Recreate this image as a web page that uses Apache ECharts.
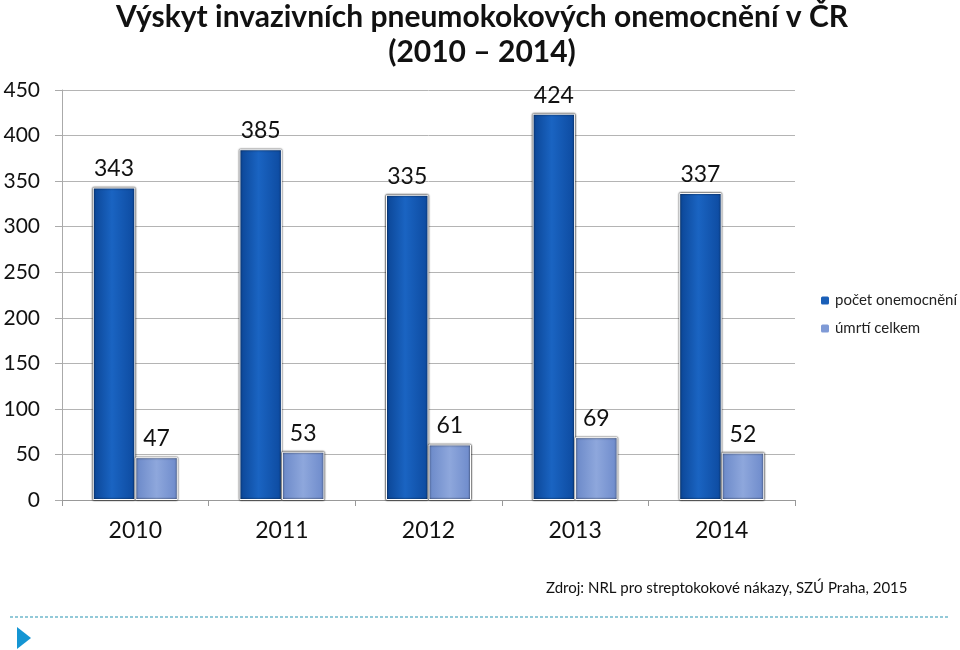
<!DOCTYPE html>
<html>
<head>
<meta charset="utf-8">
<script src="https://cdn.jsdelivr.net/npm/echarts@6/dist/echarts.min.js"></script>
<style>
html,body{margin:0;padding:0;background:#fff;}
#chart{width:960px;height:650px;}
</style>
</head>
<body>
<div id="chart"></div>
<script>
var categories = ['2010', '2011', '2012', '2013', '2014'];
var cases = [343, 385, 335, 424, 337];
var deaths = [47, 53, 61, 69, 52];
var seriesNames = ['počet onemocnění', 'úmrtí celkem'];
var yTicks = { min: 0, max: 450, interval: 50 };

var FONT = 'Lato, "Open Sans", sans-serif';
var chart = echarts.init(document.getElementById('chart'));

var blueGrad = new echarts.graphic.LinearGradient(0, 0, 1, 0, [
  { offset: 0, color: '#0b4595' },
  { offset: 0.45, color: '#1a64c2' },
  { offset: 1, color: '#0d4a9f' }
]);
var lightGrad = new echarts.graphic.LinearGradient(0, 0, 1, 0, [
  { offset: 0, color: '#6a88c8' },
  { offset: 0.5, color: '#8ea7dc' },
  { offset: 1, color: '#6d8acb' }
]);

chart.setOption({
  animation: false,
  title: [{
    text: 'Výskyt invazivních pneumokokových onemocnění v ČR\n(2010 – 2014)',
    left: 482, top: 0, padding: 0, textAlign: 'center',
    textStyle: { fontFamily: FONT, fontWeight: 'bold', fontSize: 30, lineHeight: 35, color: '#111' }
  }, {
    text: 'Zdroj: NRL pro streptokokové nákazy, SZÚ Praha, 2015',
    left: 541, top: 576,
    textStyle: { fontFamily: FONT, fontWeight: 'normal', fontSize: 15, color: '#111' }
  }],
  legend: {
    orient: 'vertical', left: 814, top: 288,
    itemWidth: 10, itemHeight: 10, itemGap: 13,
    textStyle: { fontFamily: FONT, fontSize: 15, color: '#222' },
    data: [
      { name: seriesNames[0], itemStyle: { color: '#1a5fb8' } },
      { name: seriesNames[1], itemStyle: { color: '#7f9ad6' } }
    ]
  },
  grid: { left: 62, right: 165, top: 90, bottom: 150 },
  xAxis: {
    type: 'category', data: categories,
    axisLine: { lineStyle: { color: '#999' } },
    axisTick: { show: true, length: 6, lineStyle: { color: '#999' } },
    axisLabel: { fontFamily: FONT, fontSize: 23, color: '#111', margin: 19 }
  },
  yAxis: {
    type: 'value', min: yTicks.min, max: yTicks.max, interval: yTicks.interval,
    axisLine: { show: true, lineStyle: { color: '#aaa' } },
    axisTick: { show: true, length: 7, lineStyle: { color: '#aaa' } },
    splitLine: { lineStyle: { color: '#b4b4b4' } },
    axisLabel: { fontFamily: FONT, fontSize: 21, color: '#111', margin: 22 }
  },
  series: [{
    name: seriesNames[0], type: 'bar', data: cases,
    barWidth: '29%', barGap: '0%',
    itemStyle: { color: blueGrad, borderColor: '#fff', borderWidth: 1,
      shadowColor: '#000', shadowBlur: 2, shadowOffsetX: 0 },
    label: { show: true, position: 'top', distance: 7, fontFamily: FONT, fontSize: 23, color: '#111' }
  }, {
    name: seriesNames[1], type: 'bar', data: deaths,
    barWidth: '29%', barGap: '0%',
    itemStyle: { color: lightGrad, borderColor: '#fff', borderWidth: 1,
      shadowColor: '#000', shadowBlur: 2, shadowOffsetX: 0 },
    label: { show: true, position: 'top', distance: 7, fontFamily: FONT, fontSize: 23, color: '#111' }
  }],
  graphic: [{
    type: 'line', shape: { x1: 10, y1: 617, x2: 950, y2: 617 },
    style: { stroke: '#6fb8cc', lineWidth: 1.5, lineDash: [3, 2] }
  }, {
    type: 'polygon', shape: { points: [[17, 627], [31, 638], [17, 649]] },
    style: { fill: '#1495d3' }
  }]
});
</script>
</body>
</html>
